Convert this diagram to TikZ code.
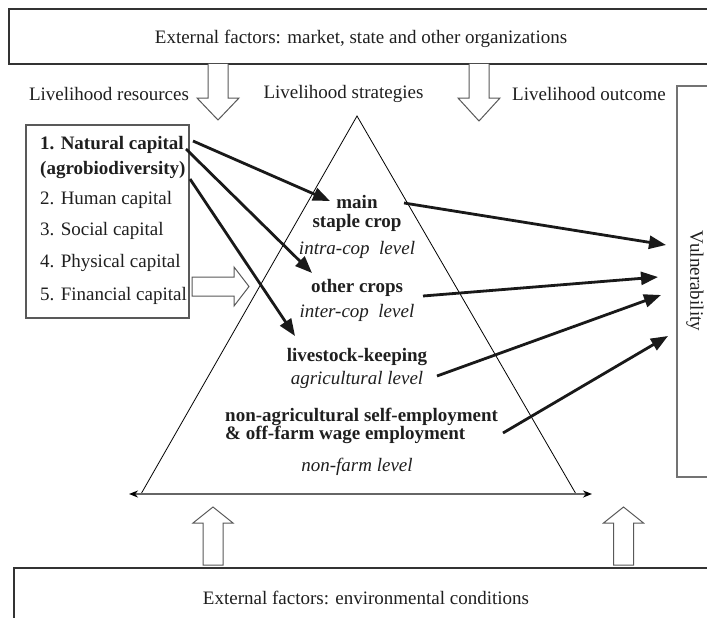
\documentclass[tikz,border=0pt]{standalone}
\usepackage{fontspec}
\setmainfont{Liberation Serif}
\usetikzlibrary{arrows.meta}
\tikzset{
  txt/.style={inner sep=0pt, text=black!88, font=\fontsize{19}{22}\selectfont},
  btxt/.style={txt, font=\fontsize{19}{22}\selectfont\bfseries},
  itxt/.style={txt, font=\fontsize{19}{22}\selectfont\itshape},
  flow/.style={line width=2.8pt, black!90, -{Triangle[length=17pt,width=13pt]}},
  blockarrow/.style={draw=black!65, line width=1pt, fill=white, line join=miter},
  frame/.style={draw=black!70, line width=1.2pt}
}
\begin{document}
\begin{tikzpicture}[x=1pt,y=-1pt]
\useasboundingbox (0,0) rectangle (707,618);
\clip (0,0) rectangle (707,618);
\fill[white] (0,0) rectangle (707,618);

% top box
\draw[frame, draw=black!80] (9,9) rectangle (730,64);
\node[txt] (topt) at (361,39) {External factors: market, state and other organizations};

% bottom box
\draw[frame, draw=black!80] (14,640) -- (14,568) -- (730,568);
\node[txt] (bott) at (366,598) {External factors: environmental conditions};

% labels
\node[txt] (lres) at (109,94) {Livelihood resources};
\node[txt] (lstr) at (343.5,94) {Livelihood strategies};
\node[txt] (lout) at (589,94) {Livelihood outcome};

% down block arrows
\draw[blockarrow] (208,64) -- (208,98) -- (197,98) -- (218,120) -- (239,98) -- (228,98) -- (228,64);
\draw[blockarrow] (469,64) -- (469,98) -- (458,98) -- (479,121) -- (500,98) -- (489,98) -- (489,64);

% up block arrows
\draw[blockarrow] (203,565) -- (203,523) -- (193,523) -- (213,507) -- (233,523) -- (223,523) -- (223,565) -- cycle;
\draw[blockarrow] (613.5,565) -- (613.5,523) -- (603.5,523) -- (623.5,507) -- (643.5,523) -- (633.5,523) -- (633.5,565) -- cycle;

% resources box
\draw[frame, draw=black!65] (26,125) rectangle (189,318);
\node[btxt, anchor=west, align=left, font=\fontsize{19}{25}\selectfont\bfseries] (r1) at (40,157.5) {1. Natural capital\\(agrobiodiversity)};
\node[txt, anchor=west] (r2) at (40,200) {2. Human capital};
\node[txt, anchor=west] (r3) at (40,231) {3. Social capital};
\node[txt, anchor=west] (r4) at (40,263) {4. Physical capital};
\node[txt, anchor=west] (r5) at (40,296) {5. Financial capital};

% right block arrow
\draw[blockarrow] (192,277) -- (234,277) -- (234,267) -- (249,286.5) -- (234,306) -- (234,296) -- (192,296) -- cycle;

% vulnerability box
\draw[frame, draw=black!55, line width=1.5pt] (730,86) -- (677,86) -- (677,477) -- (730,477);
\node[txt, rotate=-90] (vul) at (695,281) {Vulnerability};

% triangle and base
\coordinate (apex) at (357,116);
\coordinate (bl) at (141,494);
\coordinate (br) at (576,494);
\draw[black, line width=0.8pt, line join=miter] (bl) -- (apex) -- (br);
\coordinate (basel) at (129,494);
\coordinate (baser) at (592,494);
\draw[draw=black!60, line width=2pt, {Stealth[length=9pt,width=7pt,black]}-{Stealth[length=9pt,width=7pt,black]}] (basel) -- (baser);

% strategy texts
\node[btxt, align=center, font=\fontsize{19}{19}\selectfont\bfseries] (s1a) at (357,213.5) {main\\staple crop};
\node[itxt] (s1c) at (357,250) {intra-cop\ \ level};
\node[btxt] (s2a) at (357,288) {other crops};
\node[itxt] (s2b) at (357,313) {inter-cop\ \ level};
\node[btxt] (s3a) at (357,357) {livestock-keeping};
\node[itxt] (s3b) at (357,380) {agricultural level};
\node[btxt, anchor=west, align=left, font=\fontsize{19}{18}\selectfont\bfseries] (s4a) at (225,426) {non-agricultural self-employment\\\& off-farm wage employment};
\node[itxt] (s4b) at (357,467) {non-farm level};

% flow arrows
\coordinate (a1s) at (193,141); \coordinate (a1e) at (330,201);
\coordinate (a2s) at (186,149); \coordinate (a2e) at (312,273);
\coordinate (a3s) at (190,179); \coordinate (a3e) at (295,336);
\coordinate (bAs) at (404,203); \coordinate (bAe) at (666,245);
\coordinate (bBs) at (423,296); \coordinate (bBe) at (658,277);
\coordinate (bCs) at (437,376); \coordinate (bCe) at (661,295);
\coordinate (bDs) at (503,433); \coordinate (bDe) at (668,336);
\draw[flow] (a1s) -- (a1e);
\draw[flow] (a2s) -- (a2e);
\draw[flow] (a3s) -- (a3e);
\draw[flow] (bAs) -- (bAe);
\draw[flow] (bBs) -- (bBe);
\draw[flow] (bCs) -- (bCe);
\draw[flow] (bDs) -- (bDe);
\end{tikzpicture}
\end{document}
